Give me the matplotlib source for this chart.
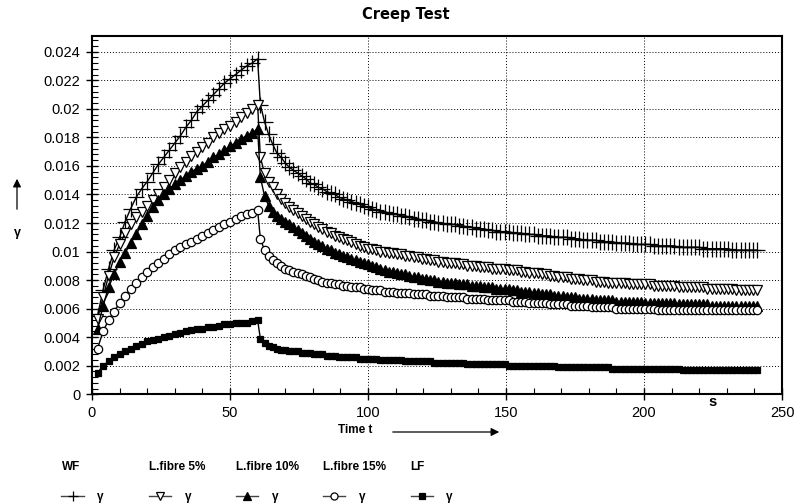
import numpy as np
import matplotlib
matplotlib.use('Agg')
import matplotlib.pyplot as plt
from matplotlib.lines import Line2D
from matplotlib.patches import FancyArrowPatch
from matplotlib.ticker import MultipleLocator, FuncFormatter

plt.rcParams['font.family'] = ['Liberation Sans', 'DejaVu Sans']

# time axis (s): loading phase every 2 s, recovery phase every 1.5 s
t_load = np.arange(2, 61, 2)
t_rec = np.arange(61, 241.1, 1.5)

# loading phase, gamma
wf_load = [0.0055, 0.0073, 0.0088, 0.0101, 0.0110, 0.0121, 0.0130, 0.0138, 0.0144, 0.0149,
           0.0155, 0.0161, 0.0166, 0.0171, 0.0176, 0.0181, 0.0187, 0.0192, 0.0198, 0.0202,
           0.0206, 0.0210, 0.0214, 0.0218, 0.0221, 0.0224, 0.0227, 0.0230, 0.0232, 0.0235]
l5_load = [0.0053, 0.0068, 0.0083, 0.0096, 0.0105, 0.0113, 0.0119, 0.0124, 0.0128, 0.0132,
           0.0136, 0.0140, 0.0145, 0.0150, 0.0155, 0.0159, 0.0163, 0.0167, 0.0170, 0.0173,
           0.0176, 0.0180, 0.0183, 0.0186, 0.0188, 0.0191, 0.0194, 0.0197, 0.0200, 0.0203]
l10_load = [0.0046, 0.0062, 0.0075, 0.0084, 0.0093, 0.0099, 0.0106, 0.0112, 0.0119, 0.0125,
            0.0131, 0.0136, 0.0140, 0.0144, 0.0147, 0.0150, 0.0153, 0.0156, 0.0158, 0.0160,
            0.0163, 0.0166, 0.0168, 0.0171, 0.0174, 0.0176, 0.0179, 0.0181, 0.0183, 0.0186]
l15_load = [0.0032, 0.0044, 0.0052, 0.0058, 0.0064, 0.0069, 0.0074, 0.0078, 0.0082, 0.0086,
            0.0089, 0.0092, 0.0095, 0.0098, 0.0101, 0.0103, 0.0105, 0.0107, 0.0109, 0.0111,
            0.0113, 0.0115, 0.0117, 0.0119, 0.0121, 0.0123, 0.0125, 0.0126, 0.0127, 0.0129]
lf_load = [0.0015, 0.0020, 0.0023, 0.0026, 0.0028, 0.0030, 0.0032, 0.0034, 0.0035, 0.0037,
           0.0038, 0.0039, 0.0040, 0.0041, 0.0042, 0.0043, 0.0044, 0.0045, 0.0046, 0.0046,
           0.0047, 0.0047, 0.0048, 0.0049, 0.0049, 0.0050, 0.0050, 0.0050, 0.0051, 0.0052]

# recovery phase, gamma (61 s .. 241 s)
wf_rec = [0.0203, 0.0191, 0.0182, 0.0175, 0.0169, 0.0166, 0.0162, 0.0159, 0.0157, 0.0155,
          0.0153, 0.0151, 0.0148, 0.0147, 0.0145, 0.0144, 0.0142, 0.0141, 0.0140, 0.0138,
          0.0137, 0.0136, 0.0135, 0.0134, 0.0133, 0.0132, 0.0131, 0.0130, 0.0129, 0.0128,
          0.0128, 0.0127, 0.0126, 0.0126, 0.0125, 0.0125, 0.0124, 0.0123, 0.0123, 0.0122,
          0.0122, 0.0121, 0.0121, 0.0120, 0.0120, 0.0119, 0.0119, 0.0119, 0.0118, 0.0118,
          0.0117, 0.0117, 0.0116, 0.0116, 0.0116, 0.0115, 0.0115, 0.0114, 0.0114, 0.0114,
          0.0114, 0.0113, 0.0113, 0.0113, 0.0112, 0.0112, 0.0112, 0.0111, 0.0111, 0.0111,
          0.0111, 0.0110, 0.0110, 0.0110, 0.0110, 0.0109, 0.0109, 0.0109, 0.0108, 0.0108,
          0.0108, 0.0108, 0.0107, 0.0107, 0.0107, 0.0107, 0.0106, 0.0106, 0.0106, 0.0106,
          0.0105, 0.0105, 0.0105, 0.0105, 0.0105, 0.0104, 0.0104, 0.0104, 0.0104, 0.0104,
          0.0104, 0.0103, 0.0103, 0.0103, 0.0103, 0.0103, 0.0103, 0.0102, 0.0102, 0.0102,
          0.0102, 0.0102, 0.0102, 0.0102, 0.0101, 0.0101, 0.0101, 0.0101, 0.0101, 0.0101,
          0.0101]
l5_rec = [0.0166, 0.0155, 0.0149, 0.0145, 0.0140, 0.0137, 0.0134, 0.0131, 0.0129, 0.0127,
          0.0125, 0.0123, 0.0121, 0.0119, 0.0117, 0.0116, 0.0114, 0.0113, 0.0111, 0.0110,
          0.0109, 0.0108, 0.0107, 0.0105, 0.0104, 0.0103, 0.0102, 0.0102, 0.0101, 0.0100,
          0.0100, 0.0099, 0.0099, 0.0098, 0.0098, 0.0097, 0.0097, 0.0096, 0.0096, 0.0095,
          0.0095, 0.0094, 0.0094, 0.0093, 0.0093, 0.0092, 0.0092, 0.0092, 0.0091, 0.0091,
          0.0090, 0.0090, 0.0090, 0.0089, 0.0089, 0.0089, 0.0088, 0.0088, 0.0088, 0.0088,
          0.0087, 0.0087, 0.0087, 0.0086, 0.0086, 0.0085, 0.0085, 0.0085, 0.0084, 0.0084,
          0.0083, 0.0083, 0.0082, 0.0082, 0.0082, 0.0081, 0.0081, 0.0081, 0.0080, 0.0080,
          0.0080, 0.0079, 0.0079, 0.0079, 0.0078, 0.0078, 0.0078, 0.0078, 0.0078, 0.0077,
          0.0077, 0.0077, 0.0077, 0.0077, 0.0077, 0.0076, 0.0076, 0.0076, 0.0076, 0.0076,
          0.0076, 0.0075, 0.0075, 0.0075, 0.0075, 0.0075, 0.0075, 0.0075, 0.0074, 0.0074,
          0.0074, 0.0074, 0.0074, 0.0074, 0.0074, 0.0073, 0.0073, 0.0073, 0.0073, 0.0073,
          0.0073]
l10_rec = [0.0152, 0.0139, 0.0132, 0.0128, 0.0125, 0.0123, 0.0121, 0.0119, 0.0117, 0.0115,
           0.0113, 0.0111, 0.0109, 0.0107, 0.0105, 0.0104, 0.0102, 0.0101, 0.0099, 0.0098,
           0.0097, 0.0096, 0.0095, 0.0094, 0.0093, 0.0092, 0.0091, 0.0090, 0.0089, 0.0088,
           0.0087, 0.0086, 0.0086, 0.0085, 0.0084, 0.0084, 0.0083, 0.0082, 0.0082, 0.0081,
           0.0081, 0.0080, 0.0080, 0.0079, 0.0079, 0.0078, 0.0078, 0.0078, 0.0077, 0.0077,
           0.0077, 0.0076, 0.0076, 0.0076, 0.0075, 0.0075, 0.0075, 0.0074, 0.0074, 0.0074,
           0.0074, 0.0073, 0.0073, 0.0072, 0.0072, 0.0072, 0.0071, 0.0071, 0.0070, 0.0070,
           0.0070, 0.0069, 0.0069, 0.0069, 0.0068, 0.0068, 0.0068, 0.0067, 0.0067, 0.0067,
           0.0067, 0.0066, 0.0066, 0.0066, 0.0066, 0.0066, 0.0065, 0.0065, 0.0065, 0.0065,
           0.0065, 0.0065, 0.0065, 0.0064, 0.0064, 0.0064, 0.0064, 0.0064, 0.0064, 0.0064,
           0.0064, 0.0063, 0.0063, 0.0063, 0.0063, 0.0063, 0.0063, 0.0063, 0.0063, 0.0062,
           0.0062, 0.0062, 0.0062, 0.0062, 0.0062, 0.0062, 0.0062, 0.0062, 0.0062, 0.0062,
           0.0062]
l15_rec = [0.0109, 0.0101, 0.0097, 0.0094, 0.0092, 0.0090, 0.0088, 0.0087, 0.0086, 0.0085,
           0.0084, 0.0083, 0.0082, 0.0081, 0.0080, 0.0079, 0.0078, 0.0078, 0.0077, 0.0077,
           0.0076, 0.0076, 0.0075, 0.0075, 0.0075, 0.0074, 0.0074, 0.0073, 0.0073, 0.0073,
           0.0072, 0.0072, 0.0072, 0.0071, 0.0071, 0.0071, 0.0071, 0.0070, 0.0070, 0.0070,
           0.0070, 0.0069, 0.0069, 0.0069, 0.0069, 0.0068, 0.0068, 0.0068, 0.0068, 0.0068,
           0.0067, 0.0067, 0.0067, 0.0067, 0.0067, 0.0066, 0.0066, 0.0066, 0.0066, 0.0066,
           0.0066, 0.0065, 0.0065, 0.0065, 0.0065, 0.0064, 0.0064, 0.0064, 0.0064, 0.0064,
           0.0063, 0.0063, 0.0063, 0.0063, 0.0063, 0.0062, 0.0062, 0.0062, 0.0062, 0.0062,
           0.0061, 0.0061, 0.0061, 0.0061, 0.0061, 0.0061, 0.0060, 0.0060, 0.0060, 0.0060,
           0.0060, 0.0060, 0.0060, 0.0060, 0.0060, 0.0060, 0.0059, 0.0059, 0.0059, 0.0059,
           0.0059, 0.0059, 0.0059, 0.0059, 0.0059, 0.0059, 0.0059, 0.0059, 0.0059, 0.0059,
           0.0059, 0.0059, 0.0059, 0.0059, 0.0059, 0.0059, 0.0059, 0.0059, 0.0059, 0.0059,
           0.0059]
lf_rec = [0.0039, 0.0036, 0.0034, 0.0033, 0.0032, 0.0031, 0.0031, 0.0030, 0.0030, 0.0030,
          0.0029, 0.0029, 0.0029, 0.0028, 0.0028, 0.0028, 0.0027, 0.0027, 0.0027, 0.0026,
          0.0026, 0.0026, 0.0026, 0.0026, 0.0025, 0.0025, 0.0025, 0.0025, 0.0025, 0.0024,
          0.0024, 0.0024, 0.0024, 0.0024, 0.0024, 0.0023, 0.0023, 0.0023, 0.0023, 0.0023,
          0.0023, 0.0023, 0.0022, 0.0022, 0.0022, 0.0022, 0.0022, 0.0022, 0.0022, 0.0022,
          0.0021, 0.0021, 0.0021, 0.0021, 0.0021, 0.0021, 0.0021, 0.0021, 0.0021, 0.0021,
          0.0020, 0.0020, 0.0020, 0.0020, 0.0020, 0.0020, 0.0020, 0.0020, 0.0020, 0.0020,
          0.0020, 0.0020, 0.0019, 0.0019, 0.0019, 0.0019, 0.0019, 0.0019, 0.0019, 0.0019,
          0.0019, 0.0019, 0.0019, 0.0019, 0.0019, 0.0018, 0.0018, 0.0018, 0.0018, 0.0018,
          0.0018, 0.0018, 0.0018, 0.0018, 0.0018, 0.0018, 0.0018, 0.0018, 0.0018, 0.0018,
          0.0018, 0.0018, 0.0017, 0.0017, 0.0017, 0.0017, 0.0017, 0.0017, 0.0017, 0.0017,
          0.0017, 0.0017, 0.0017, 0.0017, 0.0017, 0.0017, 0.0017, 0.0017, 0.0017, 0.0017,
          0.0017]

names = ['WF', 'L.fibre 5%', 'L.fibre 10%', 'L.fibre 15%', 'LF']
loads = [wf_load, l5_load, l10_load, l15_load, lf_load]
recs = [wf_rec, l5_rec, l10_rec, l15_rec, lf_rec]

# marker styles: (marker, size, facecolor)
styles = [('+', 11, 'k'), ('v', 7, 'white'), ('^', 7, 'k'), ('o', 6, 'white'), ('s', 5, 'k')]

W, H = 799, 504
fig = plt.figure(figsize=(W / 100, H / 100), dpi=100)
ax = fig.add_axes([92 / W, 1 - 394.3 / H, 690 / W, 358.3 / H])

t_all = np.concatenate([t_load, t_rec])
for load, rec, (m, ms, fc) in zip(loads, recs, styles):
    y = np.concatenate([load, rec])
    ax.plot(t_all, y, color='k', lw=1.0, marker=m, ms=ms, mfc=fc, mec='k', mew=0.9)

ax.set_xlim(0, 250)
ax.set_ylim(0, 0.0251)
ax.xaxis.set_major_locator(MultipleLocator(50))
ax.xaxis.set_minor_locator(MultipleLocator(10))
ax.yaxis.set_major_locator(MultipleLocator(0.002))
ax.yaxis.set_minor_locator(MultipleLocator(0.0004))
ax.yaxis.set_major_formatter(FuncFormatter(lambda v, p: '%g' % round(v, 4)))
ax.tick_params(which='major', direction='inout', length=9, width=1.0, labelsize=10.5, pad=4)
ax.tick_params(which='minor', direction='in', length=4, width=0.8)
ax.grid(True, which='major', color='k', ls=(0, (1, 2)), lw=0.7)
for sp in ax.spines.values():
    sp.set_linewidth(1.5)


def px(x, y):
    return (x / W, 1 - y / H)


# title sits near the figure centre, not the axes centre
fig.text(*px(406, 15), 'Creep Test', fontsize=10.5, fontweight='bold', family='DejaVu Sans',
         ha='center', va='center')

# axis labels with arrows
fig.text(*px(355, 430), 'Time t', fontsize=8.5, fontweight='bold', ha='center', va='center')
fig.add_artist(FancyArrowPatch(px(390, 432), px(502, 432), transform=fig.transFigure,
                               arrowstyle='-|>', mutation_scale=12, color='k', lw=0.9))
fig.text(*px(713, 402), 's', fontsize=10.5, fontweight='bold', ha='center', va='center')
fig.text(*px(17, 233), 'γ', fontsize=9, fontweight='bold', ha='center', va='center')
fig.add_artist(FancyArrowPatch(px(17, 212), px(17, 176), transform=fig.transFigure,
                               arrowstyle='-|>', mutation_scale=12, color='k', lw=0.9))

# legend at the bottom
for i, (name, (m, ms, fc)) in enumerate(zip(names, styles)):
    x0 = 61.5 + i * 87.3
    fig.text(*px(x0, 467), name, fontsize=8.5, fontweight='bold', ha='left', va='center')
    xa, ya = px(x0, 496)
    xb, yb = px(x0 + 22, 496)
    fig.add_artist(Line2D([xa, xb], [ya, yb], transform=fig.transFigure, color='#444444', lw=1.0))
    xc, yc = px(x0 + 11, 496)
    fig.add_artist(Line2D([xc], [yc], transform=fig.transFigure, ls='none', marker=m,
                          ms=min(ms, 8) * 0.85, mfc=fc, mec='k', mew=0.9))
    fig.text(*px(x0 + 39, 497), 'γ', fontsize=8.5, fontweight='bold', ha='center', va='center')

fig.savefig('out.png', dpi=100)
